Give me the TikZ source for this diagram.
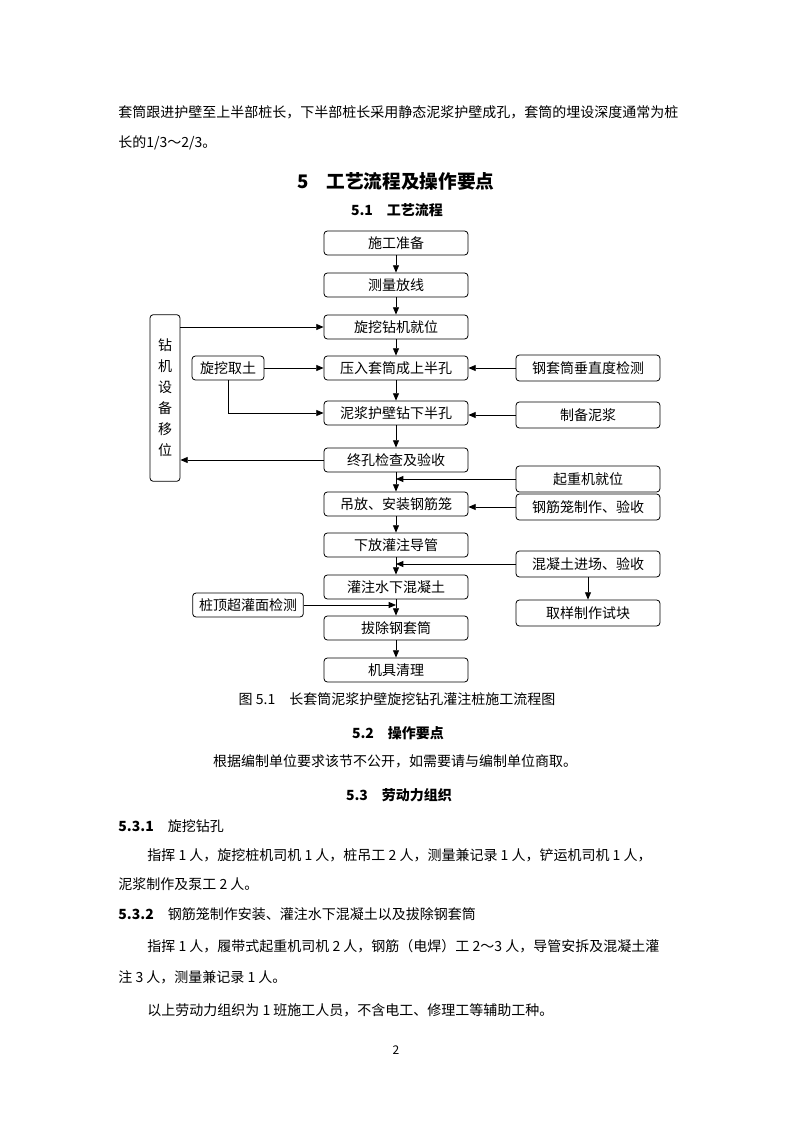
\documentclass[tikz,border=0pt]{standalone}
\usepackage{fontspec}
\setmainfont{Noto Sans CJK SC}
\usetikzlibrary{arrows.meta, positioning}

\begin{document}
\begin{tikzpicture}[x=0.75pt, y=-0.75pt,
  stepbox/.style={draw, rounded corners=2.5pt, minimum width=108pt, minimum height=18pt,
    inner sep=0pt, font=\fontsize{10.5}{12}\selectfont},
  sidebox/.style={stepbox, minimum height=19.5pt},
  txt/.style={inner sep=0pt, font=\fontsize{10.5}{12}\selectfont},
  head/.style={inner sep=0pt, font=\fontsize{10.5}{12}\selectfont\bfseries},
  >={Triangle[length=5.5pt,width=4.5pt]}, line width=0.6pt]

  \useasboundingbox (0,0) rectangle (794,1123);

  % text above the chart
  \node[txt, anchor=west] (l1) at (118,112) {套筒跟进护壁至上半部桩长，下半部桩长采用静态泥浆护壁成孔，套筒的埋设深度通常为桩};
  \node[txt, anchor=west] (l2) at (118,143) {长的1/3～2/3。};
  \node[inner sep=0pt, font=\fontsize{14}{16}\selectfont\bfseries] (h5) at (396,181) {5\hspace{13pt}工艺流程及操作要点};
  \node[head] (h51) at (397,210) {5.1\quad 工艺流程};

  % main column
  \node[stepbox] (sg) at (396,243) {施工准备};
  \node[stepbox] (cl) at (396,285) {测量放线};
  \node[stepbox] (jw) at (396,327) {旋挖钻机就位};
  \node[stepbox] (yr) at (396,368) {压入套筒成上半孔};
  \node[stepbox] (nj) at (396,413) {泥浆护壁钻下半孔};
  \node[stepbox] (zk) at (396,460) {终孔检查及验收};
  \node[stepbox] (df) at (396,504) {吊放、安装钢筋笼};
  \node[stepbox] (xf) at (396,545) {下放灌注导管};
  \node[stepbox] (gz) at (396,587) {灌注水下混凝土};
  \node[stepbox] (bc) at (396,628) {拔除钢套筒};
  \node[stepbox] (jj) at (396,670) {机具清理};

  % right column
  \node[sidebox] (cz) at (588,368) {钢套筒垂直度检测};
  \node[sidebox] (zb) at (588,415) {制备泥浆};
  \node[sidebox] (qz) at (588,479) {起重机就位};
  \node[sidebox] (gj) at (588,507) {钢筋笼制作、验收};
  \node[sidebox] (hn) at (588,564) {混凝土进场、验收};
  \node[sidebox] (qy) at (588,613) {取样制作试块};

  % left side
  \node[stepbox, minimum width=22.5pt, minimum height=125pt, align=center,
    font=\fontsize{10.5}{15.75}\selectfont] (yw) at (165,398) {钻\\机\\设\\备\\移\\位};
  \node[stepbox, minimum width=54pt] (qt) at (228,368) {旋挖取土};
  \node[stepbox, minimum width=83pt] (zd) at (248,605) {桩顶超灌面检测};

  % connectors
  \foreach \a/\b in {sg/cl, cl/jw, jw/yr, yr/nj, nj/zk, zk/df, df/xf, xf/gz, gz/bc, bc/jj}
    \draw[->] (\a) -- (\b);
  \draw[->] (yw.east |- jw.west) -- (jw.west);
  \draw[->] (qt.east) -- (yr.west);
  \draw[->] (qt.south) |- (nj.west);
  \draw[->] (zk.west) -- (zk.west -| yw.east);
  \draw[->] (cz.west) -- (yr.east);
  \draw[->] (zb.west) -- (nj.east |- zb.west);
  \draw[->] (qz.west) -- (qz.west -| zk.south);
  \draw[->] (gj.west) -- (df.east |- gj.west);
  \draw[->] (hn.west) -- (hn.west -| xf.south);
  \draw[->] (hn.south) -- (qy.north);
  \draw[->] (zd.east) -- (zd.east -| gz.south);

  \node[txt] (cap) at (397,699) {图 5.1\quad 长套筒泥浆护壁旋挖钻孔灌注桩施工流程图};

  % text below the chart
  \node[head] (h52) at (398,733) {5.2\quad 操作要点};
  \node[txt] (l3) at (395,761) {根据编制单位要求该节不公开，如需要请与编制单位商取。};
  \node[head] (h53) at (399,795) {5.3\quad 劳动力组织};
  \node[txt, anchor=west] (h531) at (118,826) {{\bfseries 5.3.1}\quad 旋挖钻孔};
  \node[txt, anchor=west] (l4) at (147,855) {指挥 1 人，旋挖桩机司机 1 人，桩吊工 2 人，测量兼记录 1 人，铲运机司机 1 人，};
  \node[txt, anchor=west] (l5) at (118,884) {泥浆制作及泵工 2 人。};
  \node[txt, anchor=west] (h532) at (118,914) {{\bfseries 5.3.2}\quad 钢筋笼制作安装、灌注水下混凝土以及拔除钢套筒};
  \node[txt, anchor=west] (l6) at (147,946) {指挥 1 人，履带式起重机司机 2 人，钢筋（电焊）工 2～3 人，导管安拆及混凝土灌};
  \node[txt, anchor=west] (l7) at (118,977) {注 3 人，测量兼记录 1 人。};
  \node[txt, anchor=west] (l8) at (147,1010) {以上劳动力组织为 1 班施工人员，不含电工、修理工等辅助工种。};
  \node[txt, font=\fontsize{9}{10}\selectfont] (pg) at (396,1050) {2};
\end{tikzpicture}
\end{document}
